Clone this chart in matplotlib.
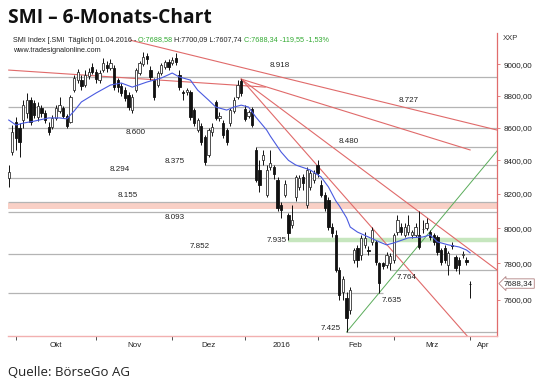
import matplotlib
matplotlib.use("Agg")
import matplotlib.pyplot as plt
from matplotlib.patches import Rectangle
from matplotlib.ticker import FixedLocator, NullLocator, FuncFormatter
import matplotlib.transforms as mtransforms

# ---------------- data (daily candles, 29.09.2015 .. 01.04.2016) ----------------
opens = [8294, 8451, 8635, 8597, 8647, 8690, 8772, 8753, 8666, 8722,
         8690, 8603, 8603, 8660, 8703, 8722, 8672, 8635, 8835, 8899,
         8899, 8867, 8924, 8982, 8950, 8899, 8963, 8995, 8976, 8976,
         8899, 8860, 8835, 8804, 8709, 8835, 8944, 9001, 9053, 8963,
         8899, 8867, 8944, 8982, 9014, 9008, 9040, 8931, 8823, 8823,
         8823, 8709, 8585, 8610, 8542, 8433, 8573, 8760, 8660, 8628,
         8585, 8628, 8703, 8791, 8893, 8716, 8672, 8716, 8463, 8342,
         8402, 8194, 8360, 8360, 8282, 8135, 8194, 8077, 8019, 8182,
         8240, 8300, 8135, 8240, 8282, 8372, 8253, 8194, 8164, 8007,
         7962, 7764, 7640, 7610, 7544, 7820, 7890, 7848, 7905, 7876,
         7922, 7922, 7803, 7800, 7792, 7800, 7820, 7978, 8007, 7962,
         7978, 7962, 7962, 7962, 7995, 8000, 7978, 7962, 7950, 7876,
         7890, 7792, 7905, 7836, 7820, 7848, 7820, 7688.58]
highs = [8372, 8616, 8666, 8628, 8772, 8816, 8791, 8772, 8760, 8740,
         8709, 8635, 8678, 8740, 8791, 8734, 8685, 8804, 8931, 8970,
         8931, 8963, 8976, 9010, 8970, 8963, 9040, 9021, 9034, 8995,
         8912, 8880, 8854, 8823, 8810, 8976, 9021, 9080, 9073, 8989,
         8912, 8957, 9008, 9028, 9034, 9047, 9073, 8963, 8835, 8848,
         8835, 8722, 8660, 8628, 8554, 8597, 8628, 8772, 8697, 8647,
         8597, 8722, 8791, 8899, 8905, 8740, 8709, 8728, 8481, 8402,
         8463, 8372, 8463, 8372, 8300, 8150, 8282, 8090, 8135, 8312,
         8312, 8318, 8360, 8342, 8342, 8402, 8282, 8210, 8180, 8030,
         7990, 7780, 7730, 7640, 7667, 7890, 7905, 7960, 7980, 7900,
         8007, 7935, 7810, 7810, 7862, 7860, 7975, 8077, 8030, 8030,
         8077, 7990, 8030, 8100, 8048, 8060, 7990, 7975, 7962, 7890,
         7905, 7870, 7920, 7850, 7836, 7870, 7836, 7700.09]
lows = [8241, 8433, 8463, 8420, 8597, 8660, 8616, 8660, 8640, 8666,
        8628, 8554, 8591, 8647, 8690, 8660, 8597, 8628, 8820, 8880,
        8835, 8854, 8905, 8937, 8880, 8880, 8950, 8950, 8963, 8835,
        8823, 8797, 8766, 8709, 8690, 8823, 8931, 8989, 9001, 8899,
        8772, 8854, 8931, 8970, 8963, 8995, 8995, 8835, 8772, 8804,
        8647, 8610, 8573, 8493, 8375, 8420, 8548, 8647, 8640, 8536,
        8493, 8610, 8690, 8778, 8797, 8640, 8660, 8603, 8270, 8211,
        8372, 8180, 8342, 8290, 8100, 8060, 8180, 7935, 8000, 8160,
        8223, 8223, 8120, 8223, 8265, 8300, 8180, 8100, 7990, 7950,
        7750, 7600, 7600, 7425, 7520, 7800, 7780, 7820, 7890, 7850,
        7905, 7790, 7635, 7770, 7775, 7764, 7800, 7962, 7962, 7950,
        7960, 7945, 7950, 7880, 7975, 7990, 7935, 7905, 7850, 7790,
        7805, 7736, 7880, 7760, 7740, 7830, 7790, 7607.74]
closes = [8330, 8573, 8536, 8511, 8740, 8772, 8635, 8678, 8734, 8690,
          8647, 8573, 8660, 8722, 8740, 8672, 8610, 8791, 8912, 8950,
          8860, 8931, 8950, 8950, 8905, 8944, 9008, 8976, 9008, 8854,
          8854, 8816, 8785, 8728, 8791, 8963, 9008, 9047, 9034, 8918,
          8791, 8944, 8995, 9014, 8982, 9028, 9014, 8854, 8816, 8835,
          8666, 8628, 8647, 8511, 8390, 8585, 8603, 8660, 8672, 8554,
          8511, 8709, 8772, 8867, 8818, 8654, 8697, 8616, 8282, 8253,
          8433, 8342, 8384, 8318, 8118, 8106, 8260, 7972, 8048, 8300,
          8294, 8265, 8342, 8325, 8325, 8325, 8194, 8118, 8007, 7972,
          7764, 7626, 7714, 7500, 7653, 7876, 7820, 7945, 7945, 7870,
          7990, 7810, 7690, 7785, 7848, 7840, 7962, 8048, 7978, 8007,
          8019, 7978, 8007, 7895, 7998, 8030, 7950, 7922, 7865, 7810,
          7820, 7860, 7900, 7775, 7792, 7852, 7808, 7688.34]

# moving average (blue), read at selected candle indices
ma_idx = [0, 2, 4, 7, 11, 14, 16, 18, 20, 24, 28, 31, 34, 38, 42, 45, 47, 50,
          52, 55, 57, 60, 62, 64, 66, 68, 71, 72, 75, 77, 79, 83, 86, 88, 90,
          91, 93, 94, 96, 99, 102, 104, 106, 110, 114, 116, 118, 121, 124, 126, 127]
ma_val = [8647, 8616, 8628, 8640, 8660, 8660, 8654, 8703, 8760, 8816, 8867, 8880,
          8854, 8886, 8912, 8944, 8918, 8899, 8835, 8772, 8728, 8709, 8728, 8740,
          8728, 8666, 8585, 8548, 8450, 8400, 8372, 8342, 8300, 8241, 8160, 8130,
          8060, 8007, 7978, 7950, 7922, 7905, 7916, 7945, 7950, 7962, 7922, 7905,
          7893, 7876, 7860]

# horizontal support / resistance levels
levels = [8918, 8727, 8600, 8480, 8375, 8294, 8155, 8093, 7852, 7764, 7635, 7425]
level_from = [None, None, None, 68, 54, None, None, None, None, 105, None, 93]
level_to = [None, None, None, None, None, None, None, None, None, None, 103, None]
green_level = 7935
green_from = 77
band_low, band_high = 8111, 8146

# trend lines: (start index, start value, end index, end value)
red_lines = [(0, 8963, 70.6, 8854),
             (33.4, 9158, 134.4, 8585),
             (64, 8905, 127, 8463),
             (64, 8905, 134.4, 7764),
             (64, 8905, 126.2, 7404)]
green_line = (93, 7425, 134.4, 8457)

month_ticks = [2, 24, 45, 65, 85, 106, 127]
month_labels = ["Okt", "Nov", "Dez", "2016", "Feb", "Mrz", "Apr"]
y_ticks = [7600, 7800, 8000, 8200, 8400, 8600, 8800, 9000]
last_price = 7688.34

# ---------------- layout ----------------
W, H = 540, 390
fig = plt.figure(figsize=(W / 100, H / 100), dpi=100)
fig.patch.set_facecolor("white")

def fx(px):
    return px / W

def fy(py):
    return 1 - py / H

ax = fig.add_axes([fx(8), fy(336), (497 - 8) / W, (336 - 33) / H])
ax.set_yscale("log")
ax.set_ylim(7404, 9205)
ax.set_xlim(-0.2, 134.4)
ax.set_facecolor("white")
x0, x1 = ax.get_xlim()

FONT = "Liberation Sans"
grey = "#b4b4b4"

# band and levels
ax.axhspan(band_low, band_high, color="#f9d0c6", lw=0, zorder=0.5)
for lv, a, b in zip(levels, level_from, level_to):
    ax.hlines(lv, x0 if a is None else a, x1 if b is None else b,
              color=grey, lw=0.9, zorder=1)
ax.hlines(green_level, green_from, x1, color="#c6e6be", lw=3.2, zorder=1)

# level labels (layout: x position in candle units, vertical offset in px)
label_layout = {8918: (74.7, -12), 8727: (110, -7), 8600: (35, 5), 8480: (93.7, -6),
                8375: (45.8, -3), 8294: (30.6, -9), 8155: (32.8, -6), 8093: (45.8, 5),
                7852: (52.7, -8), 7935: (73.8, 1), 7764: (109.6, 8), 7635: (105.5, 7),
                7425: (88.7, -4)}
for lv, (lx, dy) in label_layout.items():
    txt = f"{lv:,}".replace(",", ".")
    ax.annotate(txt, xy=(lx, lv), xytext=(0, -dy * 0.72), textcoords="offset points",
                ha="center", va="center", fontsize=5.8, family=FONT, color="#222222",
                zorder=6)

# trend lines
for (a, va_, b, vb) in red_lines:
    ax.plot([a, b], [va_, vb], color="#e06a6a", lw=0.8, zorder=2, clip_on=True)
ga, gva, gb, gvb = green_line
ax.plot([ga, gb], [gva, gvb], color="#5aac5a", lw=0.7, zorder=2)

# candles
bw = 0.62
for i, (o, h, l, c) in enumerate(zip(opens, highs, lows, closes)):
    ax.vlines(i, l, h, color="#111111", lw=0.7, zorder=3)
    up = c >= o
    lo, hi = min(o, c), max(o, c)
    ax.add_patch(Rectangle((i - bw / 2, lo), bw, hi - lo,
                           facecolor="white" if up else "#111111",
                           edgecolor="#333333" if up else "#111111",
                           lw=0.6, zorder=3.5))

# moving average
ax.plot(ma_idx, ma_val, color="#4a5ae0", lw=0.8, zorder=4)

# axes styling
for s in ["left", "top"]:
    ax.spines[s].set_visible(False)
ax.spines["right"].set_color("#e06c6c")
ax.spines["right"].set_linewidth(0.9)
ax.spines["bottom"].set_color("#f2b0b0")
ax.spines["bottom"].set_linewidth(1.0)

ax.yaxis.tick_right()
ax.yaxis.set_major_locator(FixedLocator(y_ticks))
ax.yaxis.set_minor_locator(NullLocator())
ax.yaxis.set_major_formatter(FuncFormatter(lambda v, p: f"{v:.2f}".replace(".", ",")))
ax.tick_params(axis="y", which="major", length=2.5, width=0.6, color="#e06c6c",
               pad=2, labelsize=5.8, labelcolor="#222222")
for t in ax.get_yticklabels():
    t.set_family(FONT)

ax.xaxis.set_major_locator(FixedLocator(month_ticks))
ax.xaxis.set_minor_locator(NullLocator())
ax.tick_params(axis="x", which="major", length=3, width=0.6, color="#333333",
               labelbottom=False)
trans = mtransforms.blended_transform_factory(ax.transData, ax.transAxes)
mid = [(month_ticks[k] + month_ticks[k + 1]) / 2 for k in range(len(month_ticks) - 1)]
label_x = mid + [month_ticks[-1] + 3.6]
for lx, lab in zip(label_x, month_labels):
    ax.text(lx, -0.03, lab, transform=trans, ha="center", va="center",
            fontsize=5.8, family=FONT, color="#222222")

# last price marker
ax.annotate(f"{last_price:.2f}".replace(".", ","), xy=(1, last_price),
            xycoords=("axes fraction", "data"), xytext=(5, 0), textcoords="offset points",
            ha="left", va="center", fontsize=5.8, family=FONT, color="#222222",
            bbox=dict(boxstyle="larrow,pad=0.15", fc="white", ec="#b08080", lw=0.6),
            annotation_clip=False)

fig.text(fx(503), fy(38), "XXP", fontsize=5.5, family=FONT, ha="left", va="center",
         color="#333333")

# header (multi-coloured)
renderer = fig.canvas.get_renderer()
segments = [("SMI Index [.SMI  Täglich] 01.04.2016 - ", "#222222"),
            ("O:7688,58 ", "#33aa33"),
            ("H:7700,09 L:7607,74 ", "#222222"),
            ("C:7688,34 -119,55 -1,53%", "#33aa33")]
xpos = 13
for s, col in segments:
    t = fig.text(fx(xpos), fy(40), s, fontsize=5.2, family=FONT, color=col,
                 ha="left", va="center")
    bb = t.get_window_extent(renderer)
    xpos += bb.width
fig.text(fx(13), fy(50), "www.tradesignalonline.com", fontsize=5.2, family=FONT,
         color="#222222", ha="left", va="center")

# title and source
title = fig.text(fx(8), fy(18), "SMI \u2013 6-Monats-Chart", fontsize=15,
                 family="Open Sans", weight="bold", color="#111111",
                 ha="left", va="center")
wt = title.get_window_extent(renderer).width
title.set_fontsize(15 * 203 / wt)
src = fig.text(fx(8), fy(372), "Quelle: BörseGo AG", fontsize=10, family="Open Sans",
               color="#222222", ha="left", va="center")
ws = src.get_window_extent(renderer).width
src.set_fontsize(10 * 121 / ws)

fig.savefig("out.png", dpi=100, facecolor="white")
